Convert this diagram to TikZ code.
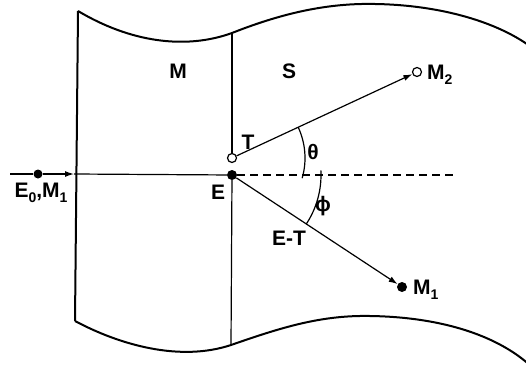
\documentclass[tikz,border=0pt]{standalone}
\usepackage{fontspec}
\setmainfont{Liberation Sans}
\usetikzlibrary{arrows.meta}
\newcommand{\mysub}[1]{\raisebox{-5pt}{\fontsize{14}{14}\selectfont #1}}
\tikzset{
  border/.style={line width=2pt},
  thin line/.style={line width=1.2pt},
  opendot/.style={circle,draw,line width=1.2pt,fill=white,inner sep=0pt,minimum size=9pt},
  filldot/.style={circle,fill=black,inner sep=0pt,minimum size=10pt},
  arr/.style={-{Latex[length=9pt,width=6pt]}},
  lbl/.style={font=\fontsize{21}{21}\selectfont\bfseries,inner sep=0pt}
}
\begin{document}
\begin{tikzpicture}[x=1pt,y=-1pt]
\useasboundingbox (0,0) rectangle (526,366);
% boundary
\coordinate (tl) at (78,11);
\coordinate (bl) at (75,321);
\coordinate (tm) at (232,33);
\coordinate (bm) at (231,345);
\draw[border] (tl) .. controls (130,42) and (185,50) .. (tm)
  .. controls (285,12) and (330,3) .. (375,4)
  .. controls (440,5) and (500,22) .. (535,50);
\draw[border] (bl) .. controls (120,345) and (180,362) .. (bm)
  .. controls (280,328) and (320,315) .. (370,316)
  .. controls (440,317) and (500,335) .. (535,370);
\draw[border] (tl) -- (bl);
% nodes
\node[filldot] (E) at (232,175) {};
\node[opendot] (T) at (232,158) {};
\node[opendot] (M2) at (417,72) {};
\node[filldot] (M1) at (402,287) {};
\node[filldot,minimum size=9pt] (E0) at (38,174) {};
\coordinate (start) at (10,174);
\coordinate (a1) at (74,174);
\coordinate (dend) at (456,175);
% middle boundary
\draw[thin line] (tm) -- (T);
\draw[thin line] (E) -- (bm);
% incoming beam
\draw[thin line] (start) -- (E0);
\draw[thin line,arr] (E0) -- (a1);
\draw[thin line] (a1) -- (E);
\draw[thin line,dashed,dash pattern=on 8pt off 5pt] (E) -- (dend);
% outgoing
\draw[thin line,arr] (T) -- (M2);
\draw[thin line,arr] (E) -- (M1);
% angles
\draw[thin line] ([shift={(16:73)}]T.center) arc[start angle=16, end angle=-25, radius=73];
\draw[thin line] ([shift={(-3:89)}]E.center) arc[start angle=-3, end angle=33.6, radius=89];
% labels
\node[lbl] (lM) at (178,71) {M};
\node[lbl] (lS) at (289,71) {S};
\node[lbl,anchor=west] (lM2) at (427,75) {M\mysub{2}};
\node[lbl] (lT) at (248,142) {T};
\node[lbl] (lth) at (313,152) {θ};
\node[lbl] (lE) at (218,192) {E};
\node[lbl] (lE0) at (41,193) {E\mysub{0},M\mysub{1}};
\node[lbl] (lph) at (323,206) {ϕ};
\node[lbl] (lET) at (289,238) {E-T};
\node[lbl,anchor=west] (lM1) at (413,290) {M\mysub{1}};
\end{tikzpicture}
\end{document}
